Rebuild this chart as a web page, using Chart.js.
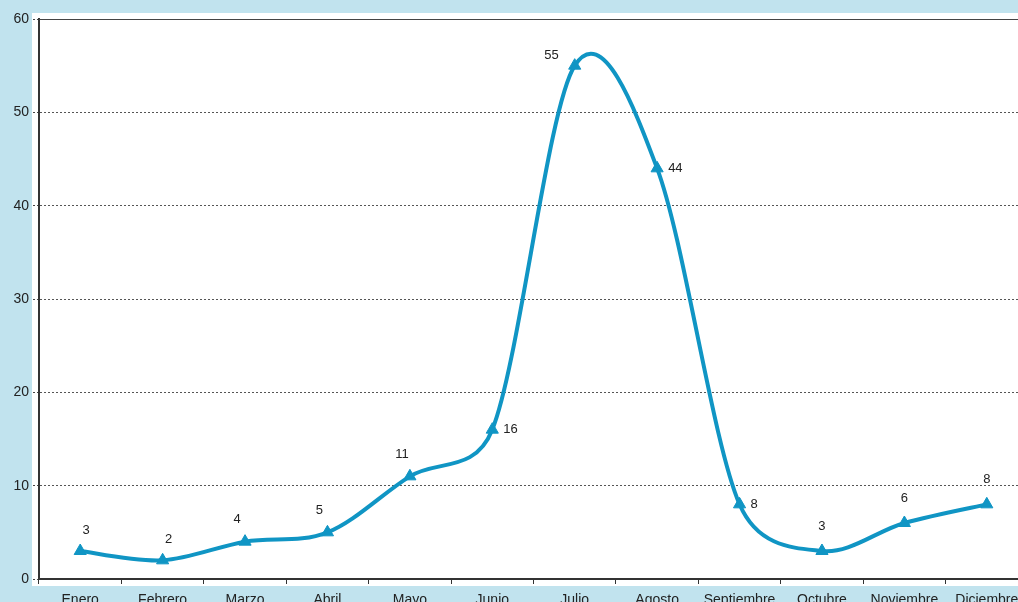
<!DOCTYPE html>
<html>
<head>
<meta charset="utf-8">
<script src="https://cdn.jsdelivr.net/npm/chart.js@4/dist/chart.umd.min.js"></script>
<style>
  html, body { margin: 0; padding: 0; background: #c1e3ee; }
  #wrap { width: 1018px; height: 602px; overflow: hidden; position: relative; }
  canvas { display: block; }
</style>
</head>
<body>
<div id="wrap"><canvas id="c" width="1042" height="602"></canvas></div>
<script>
// Monthly values
const months = ['Enero', 'Febrero', 'Marzo', 'Abril', 'Mayo', 'Junio', 'Julio',
                'Agosto', 'Septiembre', 'Octubre', 'Noviembre', 'Diciembre'];
const values = [3, 2, 4, 5, 11, 16, 55, 44, 8, 3, 6, 8];
const yTicks = [0, 10, 20, 30, 40, 50, 60];

// Where each value label sits relative to its marker
const labelSide = ['aboveRight', 'aboveRight', 'aboveLeft', 'aboveLeft', 'aboveLeft', 'right',
                   'left', 'right', 'right', 'above', 'above', 'above'];

const LINE = '#1095c4';
const FONT = '"Liberation Sans", Arial, sans-serif';

// Smoothed line: Bezier handles along (next - previous) / 6,
// each capped at half the length of the segment it belongs to.
const smoothPlugin = {
  id: 'smooth',
  beforeDatasetsDraw(chart) {
    const meta = chart.getDatasetMeta(0);
    const pts = meta.data;
    const n = pts.length;
    const dist = (a, b) => Math.hypot(b.x - a.x, b.y - a.y);
    for (let i = 0; i < n; i++) {
      const p = pts[i];
      const prev = pts[Math.max(0, i - 1)];
      const next = pts[Math.min(n - 1, i + 1)];
      const dx = (next.x - prev.x) / 6;
      const dy = (next.y - prev.y) / 6;
      const h = Math.hypot(dx, dy) || 1;
      const kIn = Math.min(1, (dist(prev, p) / 2) / h);
      const kOut = Math.min(1, (dist(p, next) / 2) / h);
      p.cp1x = p.x - dx * kIn; p.cp1y = p.y - dy * kIn;
      p.cp2x = p.x + dx * kOut; p.cp2y = p.y + dy * kOut;
    }
    meta.dataset._pointsUpdated = true;
    meta.dataset._path = undefined;
  }
};

const panelPlugin = {
  id: 'panel',
  beforeDraw(chart) {
    const { ctx, chartArea: a } = chart;
    ctx.save();
    ctx.fillStyle = '#ffffff';
    ctx.fillRect(a.left - 7, a.top - 6, chart.width, a.bottom - a.top + 13);
    ctx.restore();
  },
  afterDatasetsDraw(chart) {
    const { ctx, chartArea: a } = chart;
    const meta = chart.getDatasetMeta(0);
    ctx.save();
    // solid top frame line
    ctx.strokeStyle = '#444';
    ctx.lineWidth = 1;
    ctx.beginPath();
    ctx.moveTo(a.left, a.top + 0.5);
    ctx.lineTo(a.right, a.top + 0.5);
    ctx.stroke();
    // value labels
    ctx.fillStyle = '#222';
    ctx.font = '13px ' + FONT;
    ctx.textBaseline = 'middle';
    meta.data.forEach((pt, i) => {
      let x = pt.x, y = pt.y, align = 'center';
      switch (labelSide[i]) {
        case 'above': y -= 25; break;
        case 'aboveRight': x += 6; y -= 21; break;
        case 'aboveLeft': x -= 8; y -= 22; break;
        case 'left': x -= 16; y -= 10; align = 'right'; break;
        case 'right': x += 11; align = 'left'; break;
      }
      ctx.textAlign = align;
      ctx.fillText(String(values[i]), x, y);
    });
    ctx.restore();
  }
};

new Chart(document.getElementById('c'), {
  type: 'line',
  data: {
    labels: months,
    datasets: [{
      data: values,
      borderColor: LINE,
      backgroundColor: LINE,
      borderWidth: 4,
      tension: 0.4,
      pointStyle: 'triangle',
      pointRadius: 7,
      pointHoverRadius: 7,
      pointBorderWidth: 1,
      pointBorderColor: LINE,
      pointBackgroundColor: LINE,
      clip: false
    }]
  },
  options: {
    responsive: false,
    animation: false,
    events: [],
    layout: { padding: { left: 0, right: 14, top: 19, bottom: 0 } },
    plugins: { legend: { display: false }, tooltip: { enabled: false } },
    scales: {
      x: {
        offset: true,
        afterFit(s) { s.height = 23; },
        grid: { offset: true, drawOnChartArea: false, drawTicks: true, tickLength: 5, color: '#333', lineWidth: 1 },
        border: { display: true, color: '#333', width: 2 },
        ticks: { color: '#222', font: { size: 14, family: FONT }, padding: 8, maxRotation: 0, autoSkip: false }
      },
      y: {
        min: 0, max: 60,
        afterFit(s) { s.width = 39; },
        afterBuildTicks(s) { s.ticks = yTicks.map(v => ({ value: v })); },
        grid: { color: '#555', lineWidth: 1, drawTicks: true, tickLength: 6, tickColor: '#444', tickBorderDash: [2, 2] },
        border: { display: true, color: '#333', width: 2, dash: [2, 2] },
        ticks: { color: '#222', font: { size: 14, family: FONT }, padding: 4 }
      }
    }
  },
  plugins: [smoothPlugin, panelPlugin]
});
</script>
</body>
</html>
